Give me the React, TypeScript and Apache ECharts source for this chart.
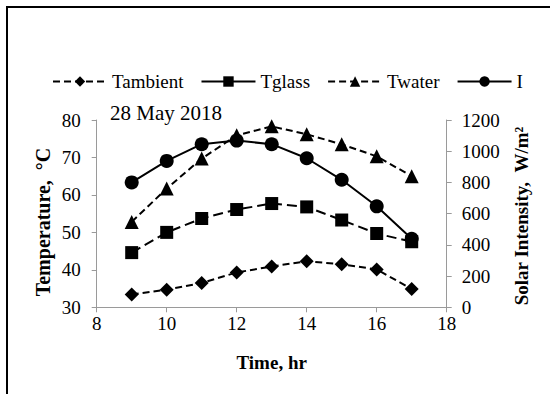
import React, { useEffect, useRef } from "react";
import * as echarts from "echarts";

// Hourly readings, 28 May 2018
const hours = [9, 10, 11, 12, 13, 14, 15, 16, 17];
const tAmbient = [33.4, 34.7, 36.5, 39.3, 40.9, 42.3, 41.5, 40.1, 34.9];
const tGlass = [44.6, 50.0, 53.7, 56.1, 57.7, 56.8, 53.3, 49.7, 47.5];
const tWater = [52.8, 61.7, 69.7, 75.9, 78.3, 76.2, 73.5, 70.3, 65.0];
const solarI = [800, 938, 1045, 1068, 1045, 955, 817, 647, 439];

const seriesNames = ["Tambient", "Tglass", "Twater", "I"];
const dateLabel = "28 May 2018";
const leftTitle = "Temperature,\u00a0\u00a0°C";
const rightTitle = "Solar Intensity,\u00a0\u00a0W/m²";

const FONT = "Liberation Serif, Times New Roman, serif";
const AXIS_GRAY = "#9a9a9a";

const pairs = (vals: number[]) => hours.map((h, i) => [h, vals[i]]);

export default function App() {
  const ref = useRef<HTMLDivElement>(null);

  useEffect(() => {
    document.body.style.margin = "0";
    const chart = echarts.init(ref.current!, null, { renderer: "svg" });

    const labelStyle = { color: "#000", fontSize: 19, fontFamily: FONT };
    const nameStyle = { color: "#000", fontSize: 19, fontWeight: "bold", fontFamily: FONT };

    const axisCommon = {
      axisLine: { show: true, lineStyle: { color: AXIS_GRAY, width: 1 } },
      axisTick: { show: true, inside: false, length: 5, lineStyle: { color: AXIS_GRAY } },
      splitLine: { show: false },
      nameLocation: "middle" as const,
    };

    const lineSeries = (
      name: string,
      vals: number[],
      symbol: string,
      size: number,
      dash: number[] | "solid",
      yAxisIndex: number
    ) => ({
      type: "line",
      name,
      yAxisIndex,
      data: pairs(vals),
      symbol,
      symbolSize: size,
      showSymbol: true,
      itemStyle: { color: "#000" },
      lineStyle: { color: "#000", width: 2, type: dash },
      z: 3,
    });

    // vertical axis title, reading bottom to top
    const verticalTitle = (text: string, x: number, y: number, size: number) => ({
      type: "text",
      x,
      y,
      rotation: Math.PI / 2,
      style: {
        text,
        fill: "#000",
        fontSize: size,
        fontWeight: "bold",
        fontFamily: FONT,
        textAlign: "center",
        textVerticalAlign: "middle",
      },
    });

    chart.setOption({
      animation: false,
      backgroundColor: "#fff",
      textStyle: { fontFamily: FONT, color: "#000" },
      grid: { left: 96.7, right: 103.3, top: 120, bottom: 86.7, containLabel: false },
      legend: {
        left: 47,
        top: 67,
        itemWidth: 54,
        itemHeight: 13,
        itemGap: 17,
        textStyle: { color: "#000", fontSize: 19, fontFamily: FONT },
        data: [
          { name: seriesNames[0] },
          { name: seriesNames[1], lineStyle: { type: "solid" } },
          { name: seriesNames[2] },
          { name: seriesNames[3] },
        ],
      },
      xAxis: {
        type: "value",
        min: 8,
        max: 18,
        interval: 2,
        name: "Time, hr",
        nameGap: 46,
        ...axisCommon,
        axisLabel: { ...labelStyle, margin: 7 },
        nameTextStyle: nameStyle,
      },
      yAxis: [
        {
          type: "value",
          min: 30,
          max: 80,
          interval: 10,
          position: "left",
          ...axisCommon,
          axisLabel: { ...labelStyle, margin: 16 },
        },
        {
          type: "value",
          min: 0,
          max: 1200,
          interval: 200,
          position: "right",
          ...axisCommon,
          axisLabel: { ...labelStyle, margin: 15, formatter: (v: number) => String(v) },
        },
      ],
      graphic: [
        {
          type: "rect",
          shape: { x: 7, y: 7, width: 700, height: 600 },
          style: { fill: "none", stroke: "#000", lineWidth: 2 },
          silent: true,
        },
        {
          type: "text",
          x: 110,
          y: 113,
          style: {
            text: dateLabel,
            fill: "#000",
            fontSize: 21,
            fontFamily: FONT,
            textVerticalAlign: "middle",
          },
        },
        verticalTitle(leftTitle, 43, 222, 20),
        verticalTitle(rightTitle, 521, 216, 19),
      ],
      series: [
        lineSeries(seriesNames[0], tAmbient, "diamond", 14, [7, 4], 0),
        lineSeries(seriesNames[1], tGlass, "rect", 13, [10, 5], 0),
        lineSeries(seriesNames[2], tWater, "triangle", 14, [7, 4], 0),
        lineSeries(seriesNames[3], solarI, "circle", 14, "solid", 1),
      ],
    });

    return () => chart.dispose();
  }, []);

  return (
    <div
      ref={ref}
      style={{ position: "absolute", left: 0, top: 0, width: 550, height: 394 }}
    />
  );
}
